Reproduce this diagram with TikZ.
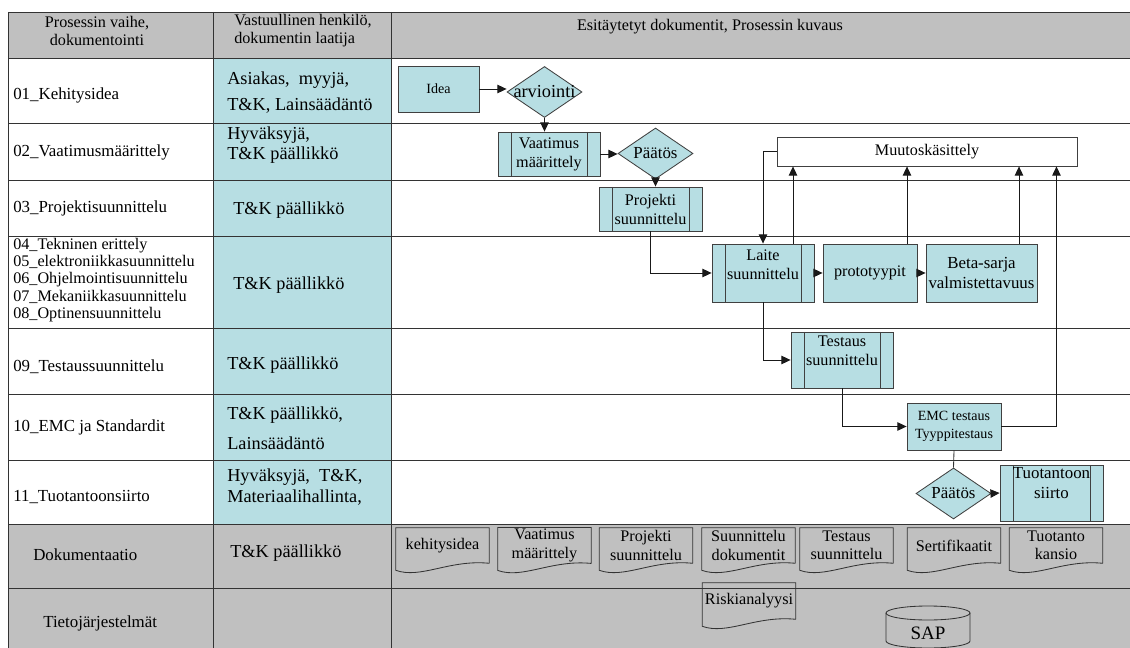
\documentclass[tikz,border=0pt]{standalone}
\usepackage{fontspec}
\setmainfont{Liberation Serif}
\usetikzlibrary{calc,arrows.meta,shapes.geometric}
\definecolor{cellgray}{RGB}{192,192,192}
\definecolor{cellblue}{RGB}{183,222,227}
\tikzset{
	cellline/.style={line width=0.6pt, color=black!80},
	headtext/.style={inner sep=0pt, align=left, font=\fontsize{11.5}{12.8}\selectfont},
	rowtext/.style={anchor=west, inner sep=0pt, align=left, font=\fontsize{12}{14}\selectfont},
	resptext/.style={anchor=west, inner sep=0pt, align=left, font=\fontsize{13}{14.5}\selectfont},
	box/.style={draw=black!75, fill=cellblue, line width=0.6pt, align=center, inner sep=1pt, font=\fontsize{11.5}{13.5}\selectfont},
	subproc/.style={box, path picture={
		\draw[black!75, line width=0.6pt] ([xshift=0.325cm]path picture bounding box.north west) -- ([xshift=0.325cm]path picture bounding box.south west);
		\draw[black!75, line width=0.6pt] ([xshift=-0.325cm]path picture bounding box.north east) -- ([xshift=-0.325cm]path picture bounding box.south east);}},
	choice/.style={box, diamond, minimum width=1.875cm, minimum height=1.275cm, inner sep=0pt},
	flowtext/.style={inner sep=0pt, align=center, font=\fontsize{11.5}{13.5}\selectfont},
	docbox/.style={inner sep=1pt, align=center, minimum width=2.325cm, minimum height=0.875cm, font=\fontsize{11.5}{13}\selectfont},
	arr/.style={line width=0.6pt, color=black!90, -{Triangle[length=6.5pt, width=6pt]}}
}
\def\docnode[#1](#2)(#3)#4{\node[docbox, #1] (#2) at (#3) {#4};
	\draw[cellline] (#2.south east) -- (#2.north east) -- (#2.north west) -- ($(#2.south west)+(0, 7)$) .. controls ($(#2.south west)+(25, 16)$) and ($(#2.south east)+(-40, -4)$) .. (#2.south east);}

\begin{document}
\begin{tikzpicture}[x=0.025cm, y=-0.025cm]
		%%%%% START %%%%%
		
		\useasboundingbox (0, 0) rectangle (1130, 648);
		
		\fill[cellgray] (8, 12) rectangle (1130, 58);
		\fill[cellblue] (213, 58) rectangle (391, 524);
		\fill[cellgray] (8, 524) rectangle (1130, 648);
		
		\foreach \y in {12, 58, 123, 180, 236, 328, 394, 460, 524, 588}
			\draw[cellline] (8, \y) -- (1130, \y);
		\foreach \x in {8, 213, 391}
			\draw[cellline] (\x, 12) -- (\x, 648);
		
		\node[headtext, align=center] (hvaihe) at (97, 31) {Prosessin vaihe,\\dokumentointi};
		\node[headtext, anchor=west] (hvastuu) at (234, 31) {Vastuullinen henkilö,\\dokumentin laatija};
		\node[headtext] (hkuvaus) at (710, 27) {Esitäytetyt dokumentit, Prosessin kuvaus};
		
		\node[rowtext] (r01) at (13, 95) {01\_Kehitysidea};
		\node[rowtext] (r02) at (13, 152) {02\_Vaatimusmäärittely};
		\node[rowtext] (r03) at (13, 208) {03\_Projektisuunnittelu};
		\node[rowtext, font=\fontsize{11.5}{12.3}\selectfont] (r04) at (13, 280) {04\_Tekninen erittely\\05\_elektroniikkasuunnittelu\\06\_Ohjelmointisuunnittelu\\07\_Mekaniikkasuunnittelu\\08\_Optinensuunnittelu};
		\node[rowtext] (r09) at (13, 367) {09\_Testaussuunnittelu};
		\node[rowtext] (r10) at (13, 427) {10\_EMC ja Standardit};
		\node[rowtext] (r11) at (13, 497) {11\_Tuotantoonsiirto};
		\node[rowtext] (rdok) at (33, 555) {Dokumentaatio};
		\node[rowtext] (rtieto) at (43, 623) {Tietojärjestelmät};
		
		\node[resptext] (c01) at (227, 92.5) {Asiakas,\ \ myyjä,\\[3.5pt]T\&K, Lainsäädäntö};
		\node[resptext] (c02) at (227, 145) {Hyväksyjä,\\T\&K päällikkö};
		\node[resptext] (c03) at (233, 210) {T\&K päällikkö};
		\node[resptext] (c04) at (233, 285) {T\&K päällikkö};
		\node[resptext] (c09) at (227, 365) {T\&K päällikkö};
		\node[resptext] (c10) at (227, 428) {T\&K päällikkö,\\[6.5pt]Lainsäädäntö};
		\node[resptext] (c11) at (227, 487) {Hyväksyjä,\ \ T\&K,\\Materiaalihallinta,};
		\node[resptext] (cdok) at (230, 553) {T\&K päällikkö};
		
		% flow
		\node[box, minimum width=2.025cm, minimum height=1.15cm, font=\fontsize{10}{12}\selectfont] (idea) at (438.5, 89) {Idea};
		\node[choice, font=\fontsize{13}{15}\selectfont] (arv) at (544.5, 92) {\makebox[0pt]{arviointi}};
		\node[subproc, minimum width=2.55cm, minimum height=1.1cm] (vaat) at (549, 154) {Vaatimus\\määrittely};
		\node[choice, font=\fontsize{12}{14}\selectfont] (paat) at (655.5, 153.5) {\makebox[0pt]{Päätös}};
		\node[subproc, minimum width=2.575cm, minimum height=1.1cm] (proj) at (650.5, 209) {Projekti\\suunnittelu};
		\node[box, fill=white, minimum width=7.5cm, minimum height=0.725cm] (muutos) at (927, 151.5) {Muutoskäsittely};
		
		\node[subproc, minimum width=2.55cm, minimum height=1.45cm] (laite) at (763, 273) {};
		\node[flowtext] (laitetxt) at (763, 265) {Laite\\suunnittelu};
		\node[box, minimum width=2.35cm, minimum height=1.45cm] (proto) at (870, 273) {prototyypit};
		\node[box, minimum width=2.775cm, minimum height=1.45cm, font=\fontsize{12}{14}\selectfont] (beta) at (981.5, 273) {Beta-sarja\\valmistettavuus};
		
		\node[subproc, minimum width=2.55cm, minimum height=1.4cm] (testaus) at (842, 360) {};
		\node[flowtext] (testaustxt) at (842, 351) {Testaus\\suunnittelu};
		\node[box, minimum width=2.35cm, minimum height=1.175cm, font=\fontsize{10}{13}\selectfont] (emc) at (954, 426.5) {EMC testaus\\Tyyppitestaus};
		
		\node[choice, font=\fontsize{12}{14}\selectfont] (paat2) at (953.5, 493.5) {\makebox[0pt]{Päätös}};
		\node[subproc, minimum width=2.575cm, minimum height=1.4cm] (tuot) at (1051.5, 493) {};
		\node[flowtext, font=\fontsize{12}{14}\selectfont] (tuottxt) at (1051.5, 483) {Tuotantoon\\siirto};
		
		\coordinate (m1) at ($(laite.north)+(30, 0)$);
		\coordinate (m2) at ($(proto.north)+(37, 0)$);
		\coordinate (m3) at ($(beta.north)+(37.5, 0)$);
		\coordinate (m4) at ($(muutos.south east)+(-21, 0)$);
		
		\draw[arr] (idea.east) -- (idea.east -| arv.west);
		\draw[arr] (arv.south) -- (arv.south |- vaat.north);
		\draw[arr] (vaat.east) -- (vaat.east -| paat.west);
		\draw[arr] (paat.south) -- (paat.south |- proj.north);
		\draw[arr] (proj.south) |- (laite.west);
		\draw[arr] (muutos.west) -| (laite.north);
		\draw[arr] (m1) -- (m1 |- muutos.south);
		\draw[arr] (m2) -- (m2 |- muutos.south);
		\draw[arr] (m3) -- (m3 |- muutos.south);
		\draw[arr] (laite.east) -- (proto.west);
		\draw[arr] (proto.east) -- (beta.west);
		\draw[arr] (laite.south) |- (testaus.west);
		\draw[arr] (testaus.south) |- (emc.west);
		\draw[arr] (emc.east) -| (m4);
		\draw[cellline] (emc.south) -- (paat2.north);
		\draw[arr] (paat2.east) -- (tuot.west);
		
		% dokumentaatio
		\docnode[](d1)(442.5, 545.5){kehitysidea}
		\docnode[](d2)(544.5, 545.5){Vaatimus\\määrittely}
		\docnode[](d3)(646, 545.5){Projekti\\suunnittelu}
		\docnode[](d4)(748.5, 545.5){Suunnittelu\\dokumentit}
		\docnode[](d5)(846.5, 545.5){Testaus\\suunnittelu}
		\docnode[](d6)(954, 545.5){Sertifikaatit}
		\docnode[](d7)(1056, 545.5){Tuotanto\\kansio}
		\docnode[minimum height=0.9cm](risk)(749, 601){Riskianalyysi}
		
		% SAP
		\node[inner sep=0pt, font=\fontsize{13.5}{15}\selectfont] (sap) at (928, 633) {SAP};
		\draw[cellline] (928, 613) ellipse (1.05cm and 0.175cm);
		\draw[cellline] (886, 613) -- (886, 641) arc (180:360:1.05cm and 0.175cm) -- (970, 613);
		
		%%%%% END %%%%%
	\end{tikzpicture}
\end{document}
